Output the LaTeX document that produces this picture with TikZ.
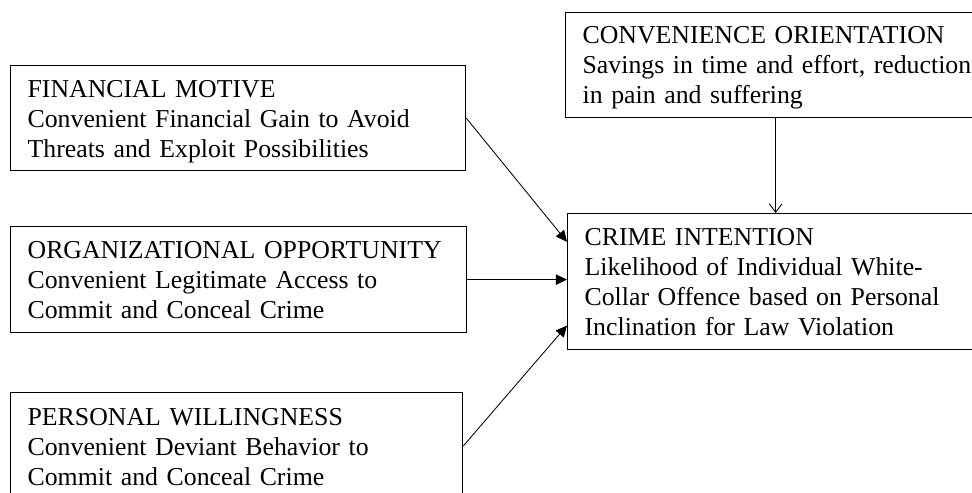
\documentclass[tikz,border=0pt]{standalone}
\usepackage{fontspec}
\setmainfont{Liberation Serif}
\usepackage{tikz}
\usetikzlibrary{arrows.meta, positioning, calc}

\begin{document}
\begin{tikzpicture}[>={Triangle[length=8pt,width=7.5pt]},
  factor/.style={draw, line width=0.9pt, anchor=north west, align=left,
    inner xsep=0.425cm, inner ysep=0pt,
    font=\fontsize{18.35pt}{21.3pt}\selectfont},
  link/.style={->, line width=0.6pt}]
  % Frame of the page
  \clip (0,0) rectangle (24.3,12.325);
  % Three convenience dimensions on the left
  \node[factor, text width=10.525cm, text height=0.8cm, text depth=1.825cm]
    (fin) at (0.25,10.7)
    {FINANCIAL MOTIVE\\Convenient Financial Gain to Avoid\\Threats and Exploit Possibilities};
  \node[factor, text width=10.55cm, text height=0.8cm, text depth=1.85cm]
    (org) at (0.25,6.675)
    {ORGANIZATIONAL OPPORTUNITY\\Convenient Legitimate Access to\\Commit and Conceal Crime};
  \node[factor, text width=10.45cm, text height=0.825cm, text depth=2.5cm]
    (pers) at (0.25,2.525)
    {PERSONAL WILLINGNESS\\Convenient Deviant Behavior to\\Commit and Conceal Crime};
  % Orientation and outcome on the right
  \node[factor, text width=9.65cm, text height=0.775cm, text depth=1.85cm]
    (conv) at (14.125,12.025)
    {CONVENIENCE ORIENTATION\\\mbox{Savings in time and effort, reduction}\\in pain and suffering};
  \node[factor, text width=9.65cm, text height=0.8cm, text depth=2.6cm]
    (crime) at (14.175,7.0)
    {CRIME INTENTION\\Likelihood of Individual White-\\Collar Offence based on Personal\\Inclination for Law Violation};
  % Arrows into crime intention
  \draw[link] (fin.east) -- ($(crime.north west)!0.21!(crime.south west)$);
  \draw[link] (org.east) -- (org.east -| crime.west);
  \draw[link] ([yshift=-1.35cm]pers.north east) -- ($(crime.north west)!0.82!(crime.south west)$);
  \draw[line width=0.6pt, -{Straight Barb[length=6pt,width=9pt]}] (conv.south) -- (conv.south |- crime.north);
\end{tikzpicture}
\end{document}
